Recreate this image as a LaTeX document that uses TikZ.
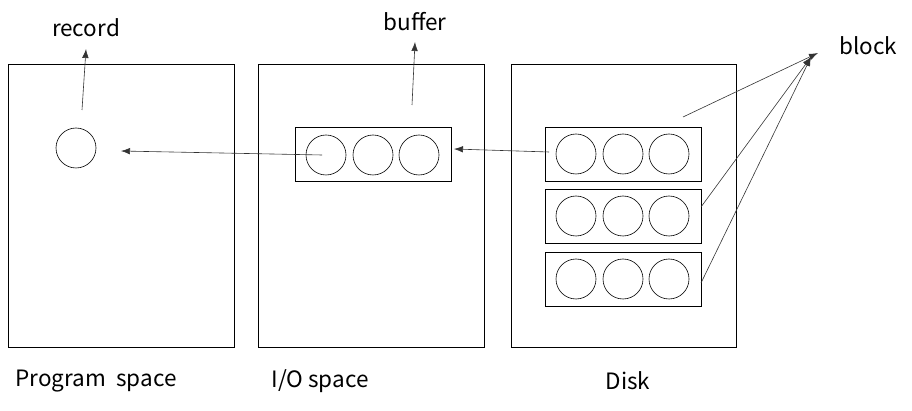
\documentclass[tikz,border=0pt]{standalone}
\usepackage{fontspec}
\setmainfont{Noto Sans CJK KR}
\usetikzlibrary{arrows.meta}
\begin{document}
\begin{tikzpicture}[x=1pt,y=-1pt,
  panel/.style={draw,line width=0.8pt},
  blockbox/.style={draw,line width=0.8pt},
  rec/.style={draw,circle,minimum size=40pt,inner sep=0pt,line width=0.6pt},
  lbl/.style={font=\fontsize{22.5}{26}\selectfont,inner sep=0pt},
  arr/.style={draw=black!80,line width=0.6pt,-{Latex[length=9pt,width=6.5pt]}}]
\useasboundingbox (0,0) rectangle (912,411);
% panels
\draw[panel] (8,64) rectangle (234,347);
\draw[panel] (258,64) rectangle (484,347);
\draw[panel] (511,64) rectangle (736,347);
% record
\node[rec] (r) at (76,148) {};
% buffer
\draw[blockbox] (295,127) rectangle (451,181);
\node[rec] (b1) at (326,155) {};
\node[rec] (b2) at (373,155) {};
\node[rec] (b3) at (419,155) {};
% disk blocks
\foreach \y/\n in {154/1,216/2,279/3}{
  \draw[blockbox] (545,\y-27) rectangle (701,\y+27);
  \node[rec] (d\n a) at (576,\y) {};
  \node[rec] (d\n b) at (623,\y) {};
  \node[rec] (d\n c) at (669,\y) {};
}
% labels
\node[lbl] (recl) at (86,28) {record};
\node[lbl] (bufl) at (415,22) {buffer};
\node[lbl] (blkl) at (868,46) {block};
\node[lbl] (ps) at (96,381) {Program\ \ space};
\node[lbl] (ios) at (320,381) {I/O space};
\node[lbl] (dsk) at (628,381) {Disk};
% coordinates
\coordinate (rs) at (82,110);
\coordinate (re) at (86,49);
\coordinate (bs) at (412,105);
\coordinate (be) at (415,42);
\coordinate (k0) at (683,117);
\coordinate (k0e) at (818,53);
\coordinate (k2) at (701,207);
\coordinate (k3) at (701,283);
\coordinate (kke) at (811,57);
\coordinate (m1) at (322,155);
\coordinate (m1e) at (121,151);
\coordinate (m2) at (549,152);
\coordinate (m2e) at (454,149);
% arrows
\draw[arr] (rs) -- (re);
\draw[arr] (bs) -- (be);
\draw[arr] (k0) -- (k0e);
\draw[arr] (k2) -- (kke);
\draw[arr] (k3) -- (kke);
\draw[arr] (m1) -- (m1e);
\draw[arr] (m2) -- (m2e);
\end{tikzpicture}
\end{document}
